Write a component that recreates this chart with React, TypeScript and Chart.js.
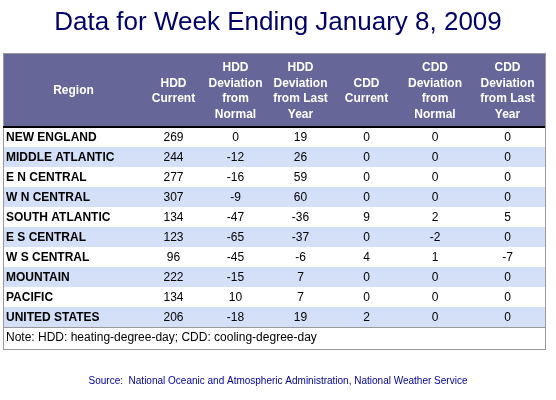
import React, { useEffect, useRef } from "react";
import { Chart, registerables } from "chart.js";
Chart.register(...registerables);

const regions = ["NEW ENGLAND","MIDDLE ATLANTIC","E N CENTRAL","W N CENTRAL","SOUTH ATLANTIC","E S CENTRAL","W S CENTRAL","MOUNTAIN","PACIFIC","UNITED STATES"];
const hddCurrent = [269,244,277,307,134,123,96,222,134,206];
const hddDevNormal = [0,-12,-16,-9,-47,-65,-45,-15,10,-18];
const hddDevLastYear = [19,26,59,60,-36,-37,-6,7,7,19];
const cddCurrent = [0,0,0,0,9,0,4,0,0,2];
const cddDevNormal = [0,0,0,0,2,-2,1,0,0,0];
const cddDevLastYear = [0,0,0,0,5,0,-7,0,0,0];
const headers = [["Region"],["HDD","Current"],["HDD","Deviation","from","Normal"],["HDD","Deviation","from Last","Year"],["CDD","Current"],["CDD","Deviation","from","Normal"],["CDD","Deviation","from Last","Year"]];
const colEdges = [0,141,200,265,330,397,467,542];
const title = "Data for Week Ending January 8, 2009";
const note = "Note: HDD: heating-degree-day; CDD: cooling-degree-day";
const source = "Source:  National Oceanic and Atmospheric Administration, National Weather Service";

const tablePlugin = {
  id: "table",
  afterDraw(chart: any) {
    const ctx = chart.ctx;
    const xs = chart.scales.x, ys = chart.scales.y;
    const left = xs.getPixelForValue(0), right = xs.getPixelForValue(542);
    const rowH = ys.getPixelForValue(1) - ys.getPixelForValue(0);
    const top = ys.getPixelForValue(0) - rowH / 2;
    const bottom = ys.getPixelForValue(regions.length - 1) + rowH / 2;
    const headTop = top - 74;
    ctx.save();
    // title
    ctx.fillStyle = "#000066";
    ctx.font = "26px 'Liberation Sans', Arial, sans-serif";
    ctx.textAlign = "center"; ctx.textBaseline = "middle";
    ctx.fillText(title, 278, 23);
    // header
    ctx.fillStyle = "#666699";
    ctx.fillRect(left, headTop, right - left, top - headTop);
    ctx.fillStyle = "#ffffff";
    ctx.font = "bold 12px 'Liberation Sans', Arial, sans-serif";
    headers.forEach((lines, i) => {
      const cx = (xs.getPixelForValue(colEdges[i]) + xs.getPixelForValue(colEdges[i + 1])) / 2;
      const lh = 15.5;
      const mid = (headTop + top) / 2 + 1;
      lines.forEach((l, j) => ctx.fillText(l, cx, mid + (j - (lines.length - 1) / 2) * lh));
    });
    // rows
    const cols = [hddCurrent, hddDevNormal, hddDevLastYear, cddCurrent, cddDevNormal, cddDevLastYear];
    regions.forEach((r, i) => {
      const cy = ys.getPixelForValue(i);
      if (i % 2 === 1) { ctx.fillStyle = "#d3e0f7"; ctx.fillRect(left, cy - rowH / 2, right - left, rowH); }
      ctx.fillStyle = "#000000";
      ctx.font = "bold 12px 'Liberation Sans', Arial, sans-serif";
      ctx.textAlign = "left";
      ctx.fillText(r, left + 3, cy + 1);
      ctx.font = "12px 'Liberation Sans', Arial, sans-serif";
      ctx.textAlign = "center";
      cols.forEach((c, k) => {
        const cx = (xs.getPixelForValue(colEdges[k + 1]) + xs.getPixelForValue(colEdges[k + 2])) / 2;
        ctx.fillText(String(c[i]), cx, cy + 1);
      });
    });
    // note
    ctx.textAlign = "left";
    ctx.fillText(note, left + 3, bottom + 11);
    // borders
    ctx.strokeStyle = "#999999"; ctx.lineWidth = 1;
    ctx.strokeRect(left + 0.5, headTop + 0.5, right - left, bottom + 22 - headTop);
    ctx.beginPath(); ctx.moveTo(left, bottom + 0.5); ctx.lineTo(right, bottom + 0.5); ctx.stroke();
    ctx.strokeStyle = "#000000"; ctx.lineWidth = 2;
    ctx.beginPath(); ctx.moveTo(left, top); ctx.lineTo(right, top); ctx.stroke();
    // source
    ctx.fillStyle = "#000099";
    ctx.textAlign = "center";
    ctx.font = "10px 'Liberation Sans', Arial, sans-serif";
    ctx.fillText(source, 278, 381);
    ctx.restore();
  },
};

export default function App() {
  const ref = useRef<HTMLCanvasElement>(null);
  useEffect(() => {
    const chart = new Chart(ref.current!, {
      type: "bar",
      data: { labels: regions, datasets: [] },
      options: {
        animation: false, responsive: false, indexAxis: "y",
        layout: { padding: { left: 3, right: 11, top: 127, bottom: 73 } },
        plugins: { legend: { display: false }, tooltip: { enabled: false } },
        scales: {
          x: { type: "linear", min: 0, max: 542, display: false },
          y: { type: "category", display: false, offset: true },
        },
      },
      plugins: [tablePlugin],
    } as any);
    return () => chart.destroy();
  }, []);
  return (
    <div style={{ position: "absolute", left: 0, top: 0, width: 556, height: 400, background: "#fff" }}>
      <canvas ref={ref} width={556} height={400} />
    </div>
  );
}
